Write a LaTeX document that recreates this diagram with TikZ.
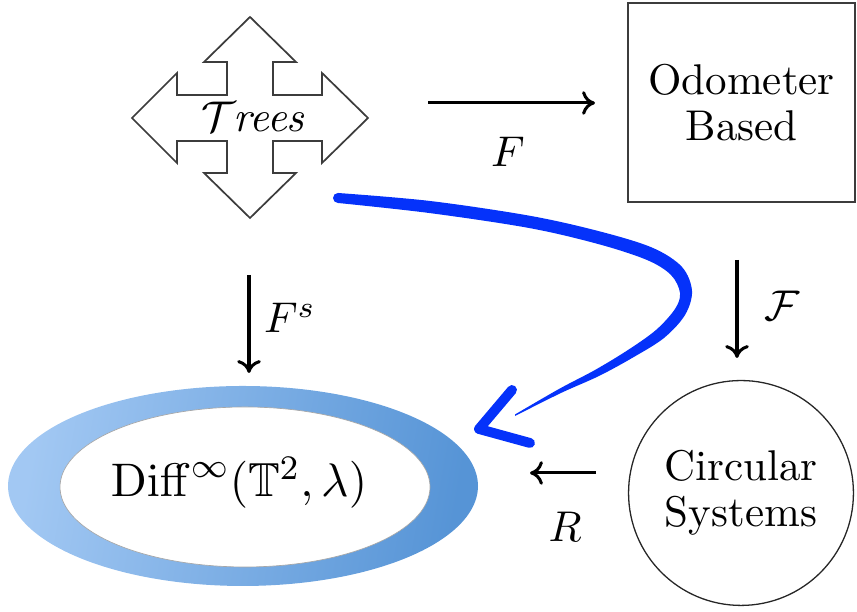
\documentclass[tikz,border=0pt]{standalone}
\usepackage{amssymb}
\usetikzlibrary{arrows.meta}
\definecolor{curveblue}{RGB}{5,50,250}
\definecolor{ringlight}{RGB}{162,200,243}
\definecolor{ringdark}{RGB}{86,148,214}
\definecolor{edgegray}{RGB}{60,60,60}
\tikzset{
  maparrow/.style={line width=0.7pt,-{To[length=3pt,width=5.5pt]}},
  lbl/.style={inner sep=0pt,font=\fontsize{10}{12}\selectfont},
  boxtext/.style={align=center,font=\fontsize{10}{10.6}\selectfont,inner sep=0pt},
  crossline/.style={draw=edgegray,line width=0.4pt,fill=white,line join=miter},
}
\begin{document}
\begin{tikzpicture}[x=0.23256pt,y=-0.23256pt]
\useasboundingbox (0,0) rectangle (857,612);

% four-way arrow with Trees
\draw[crossline] (250,17) -- (296,62) -- (273,62) -- (273,95) -- (322,95) -- (322,73) -- (368,118)
  -- (322,163) -- (322,141) -- (273,141) -- (273,173) -- (296,173) -- (250,218)
  -- (204,173) -- (227,173) -- (227,141) -- (177,141) -- (177,163) -- (132,118)
  -- (177,73) -- (177,95) -- (227,95) -- (227,62) -- (204,62) -- cycle;
\node[lbl] (trees) at (253,117) {$\mathcal{T}$\kern-0.5pt\textit{rees}};

% Odometer box
\node[draw=edgegray,line width=0.35pt,minimum width=52.8pt,minimum height=46.3pt,boxtext]
  (odo) at (741.5,102.5) {Odometer\\Based};

% Circular systems
\node[circle,draw=black!85,line width=0.3pt,minimum size=52.3pt,boxtext]
  (circ) at (741,493) {Circular\\Systems};

% ring
\shade[left color=ringlight,right color=ringdark,shading angle=80]
  plot[domain=0:360,samples=120,smooth cycle] ({243+235*cos(\x)},{486+100*sin(\x)});
\path[fill=white,draw=black!35,line width=0.15pt]
  plot[domain=0:360,samples=120,smooth cycle] ({245+185*cos(\x)},{487+80*sin(\x)});
\node[inner sep=0pt,font=\fontsize{11.1}{13}\selectfont] (diff) at (239,483)
  {$\mathrm{Diff}^{\infty}(\mathbb{T}^2,\lambda)$};

% straight arrows
\coordinate (fa) at (428,103); \coordinate (fb) at (595,103);
\draw[maparrow] (fa) -- (fb);
\node[lbl] (lF) at (508,152) {$F$};

\coordinate (sa) at (249,275); \coordinate (sb) at (249,373);
\draw[maparrow] (sa) -- (sb);
\node[lbl] (lFs) at (290,318) {$F^s$};

\coordinate (ca) at (737,260); \coordinate (cb) at (737,358);
\draw[maparrow] (ca) -- (cb);
\node[lbl] (lFc) at (782,306) {$\mathcal{F}$};

\coordinate (ra) at (596,473); \coordinate (rb) at (530,473);
\draw[maparrow] (ra) -- (rb);
\node[lbl] (lR) at (565,527) {$R$};

% blue hand-drawn arrow
\coordinate (bstart) at (338,198);
\coordinate (btip) at (479,429);
\fill[curveblue] plot[smooth,tension=0.55] coordinates {(338,193) (430,201) (531,216) (602,232) (653,248) (682,267) (692,291) (685,315) (664,338) (633,357.5) (599,376) (561,393) (515,416)}
  -- plot[smooth,tension=0.55] coordinates {(515,414.5) (559,389) (595,370) (628,350) (656,330) (675,309) (680,293) (671,275) (647,260) (598,244) (529,228) (429,213) (338,203)} -- cycle;
\fill[curveblue] (bstart) circle [radius=5];
\draw[curveblue,line width=2.3pt,line cap=round,line join=round] (512,390) -- (btip) -- (530,443);
\end{tikzpicture}
\end{document}
